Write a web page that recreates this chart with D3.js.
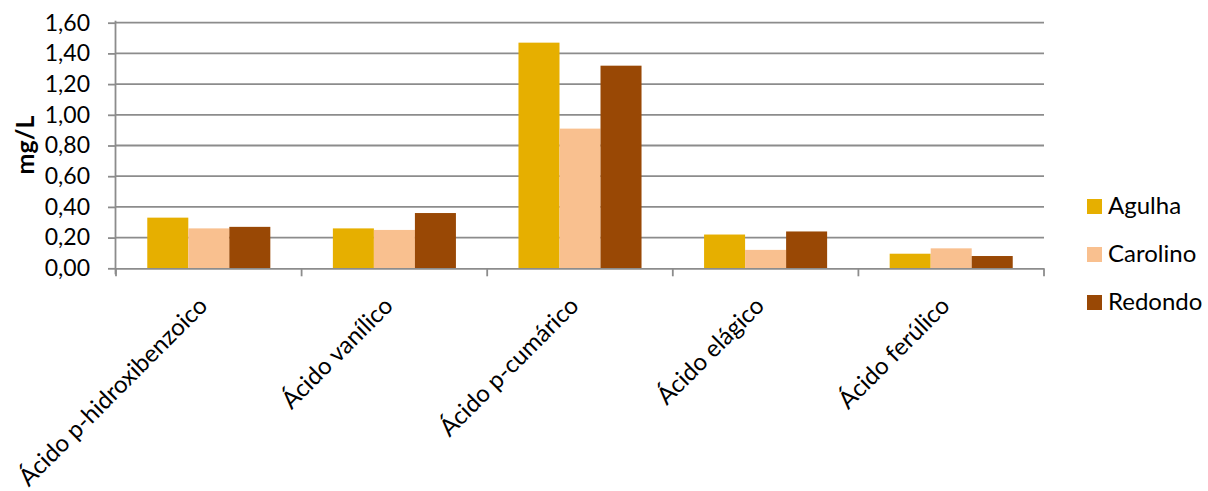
<!DOCTYPE html>
<html><head><meta charset="utf-8">
<script src="https://cdn.jsdelivr.net/npm/d3@7"></script>
<style>body{margin:0;background:#fff}svg{display:block}text{font-family:Lato,"Open Sans",sans-serif}</style>
</head><body><svg id="c" width="1208" height="491"></svg>
<script>
const categories = ["Ácido p-hidroxibenzoico","Ácido vanílico","Ácido p-cumárico","Ácido elágico","Ácido ferúlico"];
const seriesNames = ["Agulha","Carolino","Redondo"];
const agulha = [0.33,0.26,1.47,0.22,0.095];
const carolino = [0.26,0.25,0.91,0.12,0.13];
const redondo = [0.27,0.36,1.32,0.24,0.08];
const yTicks = [0,0.2,0.4,0.6,0.8,1.0,1.2,1.4,1.6];
const colors = ["#E6AF00","#F9C08F","#994805"];
const values = [agulha,carolino,redondo];

const svg = d3.select("#c");
const L=116,R=1044,T=22.7,B=268.3;
const x = d3.scaleBand().domain(categories).range([L,R]).paddingInner(0).paddingOuter(0);
const xs = d3.scaleBand().domain(seriesNames).range([0,x.bandwidth()]).paddingOuter(0.7625).paddingInner(0);
const y = d3.scaleLinear().domain([0,1.6]).range([B,T]);
const fmt = v => d3.format(".2f")(v).replace(".",",");

// gridlines
svg.append("g").selectAll("line").data(yTicks.slice(1)).join("line")
  .attr("x1",L).attr("x2",R).attr("y1",d=>y(d)).attr("y2",d=>y(d))
  .attr("stroke","#8c8c8c").attr("stroke-width",1.8);

// bars
categories.forEach((c,i)=>{
  seriesNames.forEach((s,j)=>{
    svg.append("rect").attr("x",x(c)+xs(s)).attr("width",xs.bandwidth())
      .attr("y",y(values[j][i])).attr("height",B-y(values[j][i]))
      .attr("fill",colors[j]);
  });
});

// y axis
const ya = svg.append("g").attr("transform",`translate(${L},0)`)
  .call(d3.axisLeft(y).tickValues(yTicks).tickFormat(fmt).tickSize(8).tickPadding(18));
ya.select(".domain").attr("stroke","#8c8c8c").attr("stroke-width",1.8).attr("d",`M-0.5,${T-2}V${B+6}`);
ya.selectAll(".tick line").attr("stroke","#8c8c8c").attr("stroke-width",1.8);
ya.selectAll(".tick text").attr("font-size",23).attr("fill","#000").attr("font-family","Lato,'Open Sans',sans-serif");

// x axis
const xa = svg.append("g").attr("transform",`translate(0,${B})`)
  .call(d3.axisBottom(x).tickSize(0).tickFormat(""));
xa.select(".domain").attr("stroke","#8c8c8c").attr("stroke-width",1.8).attr("d",`M${L},0.5H${R}`);
const bounds = [L, ...categories.map(c=>x(c)+x.bandwidth())];
svg.append("g").selectAll("line").data(bounds).join("line")
  .attr("x1",d=>d).attr("x2",d=>d).attr("y1",B).attr("y2",B+8)
  .attr("stroke","#8c8c8c").attr("stroke-width",1.8);

svg.append("g").selectAll("text").data(categories).join("text")
  .attr("transform",d=>`translate(${x(d)+x.bandwidth()/2},${B+39}) rotate(-45)`)
  .attr("text-anchor","end").attr("font-size",24).attr("fill","#000")
  .text(d=>d);

// y title
svg.append("text").attr("transform","translate(34,145) rotate(-90)")
  .attr("text-anchor","middle").attr("font-size",25).attr("font-weight","bold").text("mg/L");

// legend
const lg = svg.append("g");
seriesNames.forEach((s,j)=>{
  const yy = 199 + j*48;
  lg.append("rect").attr("x",1087).attr("y",yy).attr("width",15).attr("height",15).attr("fill",colors[j]);
  lg.append("text").attr("x",1108).attr("y",yy+15).attr("font-size",24).text(s);
});
</script></body></html>
